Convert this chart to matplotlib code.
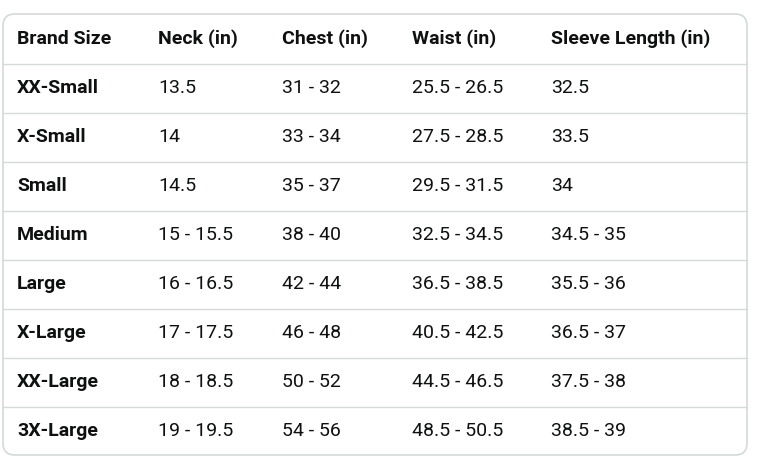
import matplotlib
matplotlib.use("Agg")
import matplotlib.pyplot as plt
from matplotlib.patches import FancyBboxPatch

headers = ["Brand Size", "Neck (in)", "Chest (in)", "Waist (in)", "Sleeve Length (in)"]
sizes = ["XX-Small", "X-Small", "Small", "Medium", "Large", "X-Large", "XX-Large", "3X-Large"]
neck = ["13.5", "14", "14.5", "15 - 15.5", "16 - 16.5", "17 - 17.5", "18 - 18.5", "19 - 19.5"]
chest = ["31 - 32", "33 - 34", "35 - 37", "38 - 40", "42 - 44", "46 - 48", "50 - 52", "54 - 56"]
waist = ["25.5 - 26.5", "27.5 - 28.5", "29.5 - 31.5", "32.5 - 34.5", "36.5 - 38.5", "40.5 - 42.5", "44.5 - 46.5", "48.5 - 50.5"]
sleeve = ["32.5", "33.5", "34", "34.5 - 35", "35.5 - 36", "36.5 - 37", "37.5 - 38", "38.5 - 39"]

W, H = 763, 468
fig = plt.figure(figsize=(W/100, H/100), dpi=100)
ax = fig.add_axes([0, 0, 1, 1])
ax.set_xlim(0, W); ax.set_ylim(H, 0); ax.axis("off")

box = FancyBboxPatch((3, 14), 744, 441, boxstyle="round,pad=0,rounding_size=12",
                     fc="white", ec="#d5d9d9", lw=1.2)
ax.add_patch(box)

colx = [17, 158, 282, 412, 551]
y0, dy = 39, 49
txt = "#0f1111"
font = ["Roboto", "DejaVu Sans"]
fs = 14
for j, h in enumerate(headers):
    ax.text(colx[j], y0, h, fontsize=fs, fontweight="bold", color=txt, va="center", family=font)
cols = [sizes, neck, chest, waist, sleeve]
for i in range(len(sizes)):
    y = y0 + dy * (i + 1)
    ax.plot([3, 747], [y - dy/2, y - dy/2], color="#d5d9d9", lw=1)
    for j, c in enumerate(cols):
        ax.text(colx[j], y, c[i], fontsize=fs, fontweight="bold" if j == 0 else "normal",
                color=txt, va="center", family=font)
fig.savefig("out.png", dpi=100)
